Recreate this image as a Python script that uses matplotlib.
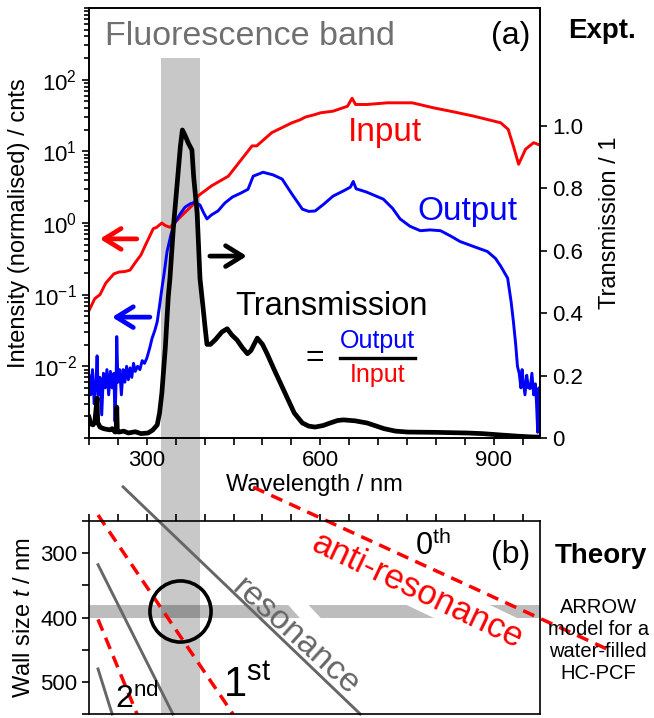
import numpy as np
import matplotlib
matplotlib.use("Agg")
import matplotlib.pyplot as plt
import matplotlib.ticker as ticker
from matplotlib.lines import Line2D
from matplotlib.patches import Polygon

plt.rcParams['font.family'] = ['Liberation Sans', 'DejaVu Sans']
plt.rcParams['mathtext.fontset'] = 'custom'
plt.rcParams['mathtext.rm'] = 'Liberation Sans'
plt.rcParams['mathtext.it'] = 'Liberation Sans:italic'
plt.rcParams['mathtext.bf'] = 'Liberation Sans:bold'

# measured spectra (a)
wl_in = [200, 210, 219, 229, 243, 252, 262, 271, 280, 290, 297, 304, 311, 317, 326, 332,
         340, 349, 360, 378, 389, 412, 441, 482, 490, 516, 551, 565, 574, 591, 600, 622,
         647, 655, 661, 681, 716, 759, 796, 830, 865, 912, 925, 934, 943, 955, 969, 981]
inp = [0.060, 0.088, 0.10, 0.145, 0.195, 0.207, 0.21, 0.22, 0.28, 0.36, 0.48, 0.63, 0.83,
       0.87, 1.0, 0.92, 0.87, 1.02, 1.26, 1.74, 2.4, 3.3, 4.5, 11.9, 11.9, 18.2, 25, 27.5,
       30, 32.6, 34.4, 36.3, 42.5, 55, 45, 45, 47.5, 47.5, 40.4, 35.6, 31, 25, 20.2, 11.8,
       6.6, 10.7, 13.2, 12.1]

wl_out = [200, 203, 206, 209, 212, 214, 216, 219, 222, 225, 228, 231, 234, 237, 240, 243,
          245, 247, 248, 250, 253, 256, 259, 262, 265, 268, 271, 274, 277, 280, 284, 288,
          292, 296, 300, 305, 309, 314, 318, 322, 326, 330, 335, 342, 349, 358, 366, 375,
          383, 392, 398, 404, 412, 423, 435, 448, 462, 475, 484, 501, 518, 534, 550, 569,
          580, 591, 605, 622, 640, 652, 657, 662, 680, 709, 725, 738, 755, 773, 790, 808,
          825, 842, 865, 889, 903, 912, 924, 930, 934, 938, 941, 944, 947, 949, 951, 954,
          957, 960, 963, 966, 969, 972, 974, 976, 978, 981]
outp = [0.0075, 0.004, 0.009, 0.003, 0.006, 0.014, 0.004, 0.007, 0.0021, 0.008, 0.005,
        0.009, 0.004, 0.0085, 0.005, 0.008, 0.0017, 0.007, 0.026, 0.006, 0.009, 0.004,
        0.009, 0.006, 0.010, 0.0065, 0.0095, 0.007, 0.011, 0.0085, 0.010, 0.009, 0.012,
        0.011, 0.013, 0.018, 0.0245, 0.032, 0.042, 0.07, 0.121, 0.20, 0.40, 0.70, 1.03,
        1.35, 1.66, 1.85, 1.95, 1.78, 1.4, 1.14, 1.3, 1.47, 1.9, 2.3, 2.6, 2.95, 4.5, 5.1,
        4.7, 4.1, 2.6, 1.56, 1.45, 1.47, 1.8, 2.37, 2.8, 3.16, 3.8, 3.0, 2.7, 2.15, 1.6,
        1.14, 0.9, 0.78, 0.8, 0.78, 0.66, 0.55, 0.47, 0.40, 0.32, 0.25, 0.17, 0.08, 0.042,
        0.02, 0.010, 0.008, 0.005, 0.009, 0.0062, 0.004, 0.0075, 0.005, 0.0049, 0.008,
        0.004, 0.0057, 0.003, 0.0012, 0.005, 0.004]

wl_tr = [200, 203, 207, 210, 214, 215, 219, 225, 230, 236, 240, 245, 247, 248, 249, 252,
         260, 268, 280, 290, 302, 310, 318, 322, 326, 332, 337, 340, 346, 352, 358, 361.5,
         366, 372, 378, 381, 387, 392, 396, 401, 404, 410, 418, 430, 439, 447, 456, 465,
         474, 480, 491, 500, 508, 520, 539, 555, 569, 580, 591, 605, 617, 630, 640, 660,
         681, 710, 730, 751, 800, 854, 880, 912, 940, 969, 981]
trans = [0.067, 0.045, 0.042, 0.05, 0.128, 0.05, 0.035, 0.03, 0.028, 0.026, 0.03, 0.019,
         0.02, 0.099, 0.02, 0.019, 0.022, 0.016, 0.02, 0.014, 0.016, 0.025, 0.042, 0.08,
         0.144, 0.29, 0.45, 0.512, 0.677, 0.805, 0.934, 0.987, 0.97, 0.944, 0.923, 0.837,
         0.72, 0.51, 0.44, 0.35, 0.30, 0.30, 0.314, 0.34, 0.35, 0.33, 0.314, 0.29, 0.27,
         0.28, 0.32, 0.30, 0.27, 0.22, 0.144, 0.08, 0.048, 0.038, 0.035, 0.04, 0.048, 0.056,
         0.058, 0.055, 0.048, 0.03, 0.022, 0.019, 0.018, 0.016, 0.014, 0.0096, 0.006,
         0.003, 0.003]

# fluorescence band / wall size band
fl_band = [325, 392]
fl_top = 200
wall_band = [380, 400]
circle_wl, circle_t = 358, 390

# ARROW model lines (b): (wavelength, wall size) end points
res_lines = [([259, 669], [197, 550]),
             ([215.6, 345], [318, 550]),
             ([215.6, 240], [480, 550])]
antires_lines = [([484, 1097], [197.4, 449.5]),
                 ([215.6, 449], [240.7, 550]),
                 ([215.6, 283], [403, 550])]

fig = plt.figure(figsize=(6.54, 7.18), dpi=100)
ax1 = fig.add_axes([0.1361, 0.3900, 0.6896, 0.5989])
ax2 = fig.add_axes([0.1361, 0.00557, 0.6896, 0.2688])
ax1t = ax1.twinx()

fs_tick = 16
fs_lab = 17

# ---- (a) experiment
ax1.set_yscale('log')
ax1.set_xlim(200, 980)
ax1.set_ylim(1e-3, 1e3)
ax1t.set_ylim(0, 1.378)

# fluorescence band runs down through both panels
ymax_frac = (np.log10(fl_top) + 3) / 6
p1, p2 = ax1.get_position(), ax2.get_position()
ymin_frac = (p2.y0 - p1.y0) / p1.height
ax1.axvspan(fl_band[0], fl_band[1], ymin=ymin_frac, ymax=ymax_frac, color='#c8c8c8',
            lw=0, clip_on=False, zorder=0)

ax1.plot(wl_in, inp, color='#ff0000', lw=2.1, zorder=2)
ax1.plot(wl_out, outp, color='#0000ff', lw=2.1, zorder=2)
ax1t.plot(wl_tr, trans, color='k', lw=3.4, solid_joinstyle='round')

ax1.xaxis.set_major_locator(ticker.MultipleLocator(300))
ax1.xaxis.set_minor_locator(ticker.MultipleLocator(50))
ax1.set_yticks([1e-2, 1e-1, 1e0, 1e1, 1e2])
ax1.yaxis.set_minor_locator(ticker.LogLocator(base=10, subs=np.arange(1, 10), numticks=20))
ax1.yaxis.set_minor_formatter(ticker.NullFormatter())
ax1t.set_yticks([0, 0.2, 0.4, 0.6, 0.8, 1.0])
ax1t.set_yticklabels(['0', '0.2', '0.4', '0.6', '0.8', '1.0'])

for ax in (ax1, ax1t, ax2):
    ax.tick_params(which='both', direction='out', length=5, width=1.2, labelsize=fs_tick)
    for s in ax.spines.values():
        s.set_linewidth(1.2)
ax1.tick_params(axis='y', which='minor', length=3.5)
ax1.tick_params(axis='x', which='minor', length=5)

ax1.set_xlabel('Wavelength / nm', fontsize=fs_lab, labelpad=2)
ax1.set_ylabel('Intensity (normalised) / cnts', fontsize=fs_lab, labelpad=2)
ax1t.set_ylabel('Transmission / 1', fontsize=fs_lab, labelpad=12)

ax1.text(0.035, 0.914, 'Fluorescence band', transform=ax1.transAxes, fontsize=24.5,
         color='#707070', ha='left', va='baseline')
ax1.text(0.978, 0.916, '(a)', transform=ax1.transAxes, fontsize=23, ha='right', va='baseline')
ax1.text(1.062, 0.930, 'Expt.', transform=ax1.transAxes, fontsize=20, fontweight='bold',
         ha='left', va='baseline')
ax1.text(0.574, 0.691, 'Input', transform=ax1.transAxes, fontsize=24, color='#ff0000',
         va='baseline')
ax1.text(0.727, 0.507, 'Output', transform=ax1.transAxes, fontsize=24, color='#0000ff',
         va='baseline')
ax1.text(0.324, 0.286, 'Transmission', transform=ax1.transAxes, fontsize=23.5,
         va='baseline')
ax1.text(0.479, 0.186, '=', transform=ax1.transAxes, fontsize=23, va='center')
ax1.text(0.639, 0.209, 'Output', transform=ax1.transAxes, fontsize=18, color='#0000ff',
         ha='center', va='baseline')
ax1.text(0.639, 0.130, 'Input', transform=ax1.transAxes, fontsize=18, color='#ff0000',
         ha='center', va='baseline')
ax1.add_line(Line2D([0.557, 0.723], [0.186, 0.186], transform=ax1.transAxes, color='k', lw=2.4))

arrow = dict(arrowstyle='->,head_length=0.55,head_width=0.34', lw=3.4, mutation_scale=22,
             shrinkA=0, shrinkB=0)
ax1.annotate('', xy=(0.024, 0.463), xytext=(0.106, 0.463), xycoords='axes fraction',
             arrowprops=dict(arrow, color='#ff0000'))
ax1.annotate('', xy=(0.051, 0.281), xytext=(0.135, 0.281), xycoords='axes fraction',
             arrowprops=dict(arrow, color='#0000ff'))
ax1.annotate('', xy=(0.350, 0.423), xytext=(0.268, 0.423), xycoords='axes fraction',
             arrowprops=dict(arrow, color='k'))

# ---- (b) theory
ax2.patch.set_visible(False)
ax2.set_xlim(200, 980)
ax2.set_ylim(550, 250)
ax2.xaxis.set_ticks_position('top')
ax2.xaxis.set_major_locator(ticker.MultipleLocator(300))
ax2.xaxis.set_minor_locator(ticker.MultipleLocator(50))
ax2.tick_params(axis='x', which='both', labeltop=False, labelbottom=False, length=5)
ax2.set_yticks([300, 400, 500])
ax2.yaxis.set_minor_locator(ticker.MultipleLocator(50))
ax2.set_ylabel('Wall size $t$ / nm', fontsize=fs_lab, labelpad=4)

ax2.axhspan(wall_band[0], wall_band[1], color='k', alpha=0.26, lw=0, zorder=0.5)
# white gap in the wall band next to the resonance label
ax2.add_patch(Polygon([(543, 379), (578, 379), (601, 401), (565, 401)], closed=True,
                      fc='white', ec='none', zorder=0.8))

for xs, ts in res_lines:
    ax2.plot(xs, ts, color='#666666', lw=2.1, clip_on=False, zorder=2)
for xs, ts in antires_lines:
    ax2.plot(xs, ts, color='#ff0000', lw=2.5, ls=(0, (3.5, 2.2)), clip_on=False, zorder=2)

ax2.plot(circle_wl, circle_t, 'o', ms=44, mfc='none', mec='k', mew=2.6, zorder=3)

wbox = dict(fc='white', ec='none', pad=1)
ax2.text(0.729, 0.640, 'anti-resonance', transform=ax2.transAxes, fontsize=25,
         color='#ff0000', rotation=-25.5, rotation_mode='anchor', ha='center', va='center',
         bbox=wbox, zorder=1)
ax2.text(0.459, 0.400, 'resonance', transform=ax2.transAxes, fontsize=24.5,
         color='#666666', rotation=-42, rotation_mode='anchor', ha='center', va='center',
         zorder=1)
ax2.text(0.723, 0.824, r'$\mathregular{0^{th}}$', transform=ax2.transAxes, fontsize=22,
         va='baseline')
ax2.text(0.297, 0.088, r'$\mathregular{1^{st}}$', transform=ax2.transAxes, fontsize=30,
         va='baseline')
ax2.text(0.058, 0.031, r'$\mathregular{2^{nd}}$', transform=ax2.transAxes, fontsize=23,
         va='baseline')
ax2.text(0.978, 0.782, '(b)', transform=ax2.transAxes, fontsize=23, ha='right', va='baseline')
ax2.text(1.033, 0.782, 'Theory', transform=ax2.transAxes, fontsize=20, fontweight='bold',
         va='baseline')
ax2.text(1.129, 0.383, 'ARROW\nmodel for a\nwater-filled\nHC-PCF', transform=ax2.transAxes,
         fontsize=14.5, ha='center', va='center', multialignment='center', linespacing=1.2)

fig.savefig('out.png', dpi=100)
